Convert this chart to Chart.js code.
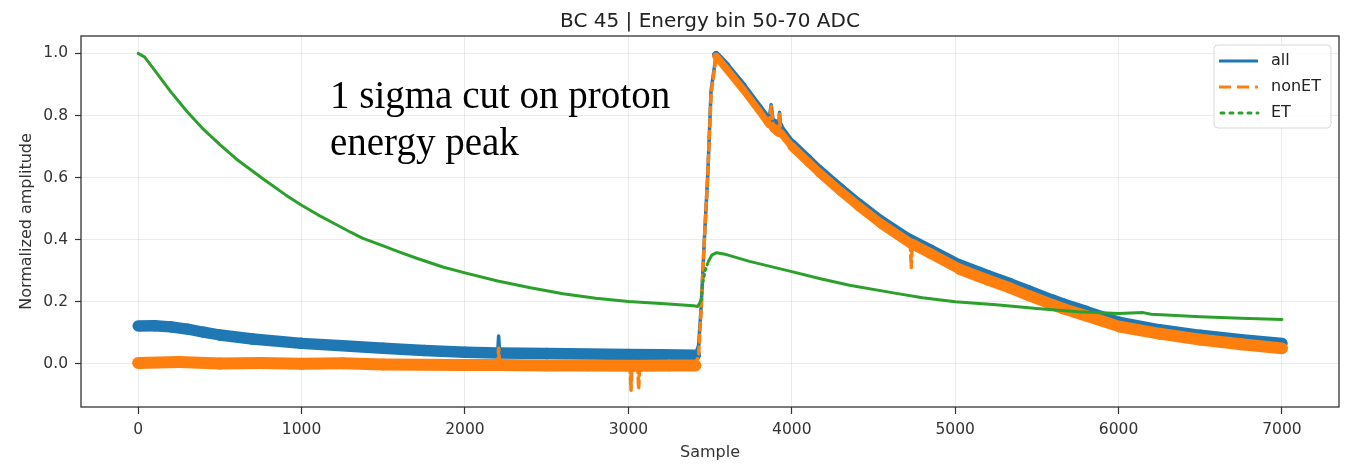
<!DOCTYPE html>
<html>
<head>
<meta charset="utf-8">
<script src="https://cdn.jsdelivr.net/npm/chart.js@4.4.0/dist/chart.umd.min.js"></script>
<style>
  html, body { margin: 0; padding: 0; background: #fff; }
</style>
</head>
<body>
<canvas id="chart" width="1346" height="466"></canvas>
<script>
// values (sample index -> normalized amplitude)
var titleText = "BC 45 | Energy bin 50-70 ADC";
var noteLines = ["1 sigma cut on proton", "energy peak"];
var seriesNames = ["all", "nonET", "ET"];

var xTickLabels = ["0", "1000", "2000", "3000", "4000", "5000", "6000", "7000"];
var yTickLabels = ["0.0", "0.2", "0.4", "0.6", "0.8", "1.0"];

var allX = [0, 100, 200, 300, 400, 500, 700, 1000, 1250, 1500, 1750, 2000, 2200, 2206, 2212, 2500, 3000, 3200, 3410,
  3430, 3445, 3465, 3486, 3506, 3537, 3600, 3700, 3800, 3860, 3874, 3888, 3920, 3925, 3932, 4000, 4100, 4169, 4300,
  4415, 4550, 4721, 4850, 5027, 5200, 5333, 5450, 5598, 5665, 5800, 6006, 6250, 6500, 6750, 7000];
var allY = [0.122, 0.123, 0.119, 0.112, 0.102, 0.093, 0.080, 0.066, 0.058, 0.050, 0.043, 0.037, 0.035, 0.090, 0.035, 0.033, 0.030, 0.029, 0.028,
  0.060, 0.180, 0.400, 0.610, 0.880, 0.995, 0.960, 0.897, 0.827, 0.785, 0.835, 0.775, 0.765, 0.810, 0.760, 0.712, 0.662, 0.627, 0.567,
  0.517, 0.462, 0.403, 0.368, 0.320, 0.285, 0.260, 0.236, 0.206, 0.193, 0.170, 0.134, 0.110, 0.092, 0.078, 0.066];

var nonetX = [0, 250, 500, 750, 1000, 1250, 1500, 1750, 2000, 2200, 2206, 2212, 2500, 2750, 3010, 3016, 3022, 3057, 3063, 3069,
  3250, 3410, 3430, 3445, 3465, 3486, 3506, 3537, 3600, 3700, 3800, 3860, 3874, 3888, 3920, 3925, 3932, 4000, 4100, 4169,
  4300, 4415, 4550, 4725, 4731, 4737, 4850, 5027, 5200, 5333, 5450, 5598, 5665, 5800, 6006, 6250, 6500, 6750, 7000];
var nonetY = [0.003, 0.006, 0.001, 0.003, 0.000, 0.002, -0.002, -0.003, -0.004, -0.004, 0.050, -0.004, -0.005, -0.005, -0.006, -0.085, -0.006, -0.006, -0.080, -0.006,
  -0.005, -0.005, 0.030, 0.170, 0.400, 0.610, 0.870, 0.990, 0.950, 0.885, 0.815, 0.770, 0.830, 0.760, 0.745, 0.805, 0.745, 0.700, 0.650, 0.615,
  0.555, 0.505, 0.450, 0.388, 0.310, 0.386, 0.355, 0.305, 0.270, 0.245, 0.220, 0.190, 0.177, 0.155, 0.120, 0.097, 0.078, 0.063, 0.050];

var etX = [0, 40, 100, 200, 300, 400, 500, 600, 761, 900, 1000, 1100, 1200, 1300, 1372, 1500, 1600, 1700, 1864, 2000, 2200,
  2400, 2600, 2800, 3000, 3200, 3400, 3425, 3445, 3455, 3470, 3490, 3510, 3540, 3600, 3741, 4000, 4169, 4353, 4639,
  4800, 5000, 5250, 5500, 5750, 6000, 6150, 6200, 6500, 6750, 7000];
var etY = [1.000, 0.988, 0.946, 0.876, 0.812, 0.755, 0.706, 0.660, 0.597, 0.545, 0.511, 0.480, 0.452, 0.424, 0.405, 0.380, 0.360, 0.341, 0.312, 0.293, 0.267,
  0.245, 0.226, 0.211, 0.201, 0.194, 0.187, 0.185, 0.205, 0.260, 0.300, 0.330, 0.350, 0.358, 0.352, 0.330, 0.297, 0.275, 0.253, 0.227,
  0.213, 0.200, 0.190, 0.178, 0.168, 0.162, 0.165, 0.160, 0.152, 0.147, 0.143];

function pts(xs, ys) {
  return xs.map(function (x, i) { return { x: x, y: ys[i] }; });
}

// noisy traces look like bands: keep the vertical thickness, thin out on steep parts
function slopeCos(ctx) {
  var dx = ctx.p1.x - ctx.p0.x, dy = ctx.p1.y - ctx.p0.y;
  var len = Math.sqrt(dx * dx + dy * dy) || 1;
  return Math.abs(dx) / len;
}
function bandWidth(base, minW) {
  return function (ctx) { return Math.max(minW, base * slopeCos(ctx)); };
}
function steepDash(dash) {
  return function (ctx) { return slopeCos(ctx) < 0.35 ? dash : []; };
}

var blue = "#1f77b4", orange = "#ff7f0e", green = "#2ca02c";
var tickFont = { family: "DejaVu Sans", size: 15.5 };
var labelFont = { family: "DejaVu Sans", size: 16 };

var frame = {
  id: "frame",
  afterDraw: function (chart) {
    var c = chart.ctx, a = chart.chartArea;
    c.save();
    c.strokeStyle = "#333";
    c.lineWidth = 1.3;
    c.strokeRect(a.left, a.top, a.right - a.left, a.bottom - a.top);

    // title
    c.fillStyle = "#222";
    c.font = "20px 'DejaVu Sans'";
    c.textAlign = "center";
    c.textBaseline = "alphabetic";
    c.fillText(titleText, (a.left + a.right) / 2, 27);

    // note
    c.fillStyle = "#000";
    c.font = "39px 'Liberation Serif'";
    c.textAlign = "left";
    c.fillText(noteLines[0], 330, 108);
    c.fillText(noteLines[1], 330, 155);

    // legend
    var bx = 1214, by = 45, bw = 117, bh = 83;
    c.fillStyle = "rgba(255,255,255,0.85)";
    c.strokeStyle = "#d8d8d8";
    c.lineWidth = 1;
    c.beginPath();
    c.roundRect(bx, by, bw, bh, 4);
    c.fill();
    c.stroke();
    var dashes = [[], [12, 6], [3, 6]];
    c.font = "16px 'DejaVu Sans'";
    c.textBaseline = "middle";
    chart.data.datasets.forEach(function (ds, i) {
      var y = 61 + i * 26;
      c.strokeStyle = ds.borderColor;
      c.lineWidth = 3;
      c.lineCap = i === 2 ? "round" : "butt";
      c.setLineDash(dashes[i]);
      c.beginPath();
      c.moveTo(i === 2 ? 1221 : 1219, y);
      c.lineTo(1258, y);
      c.stroke();
      c.setLineDash([]);
      c.fillStyle = "#222";
      c.fillText(ds.label, 1271, y);
    });
    c.restore();
  }
};

new Chart(document.getElementById("chart"), {
  type: "line",
  data: {
    datasets: [
      {
        label: seriesNames[0], data: pts(allX, allY), borderColor: blue, order: 3,
        borderCapStyle: "round", borderJoinStyle: "round",
        segment: { borderWidth: bandWidth(11.5, 3.5) }
      },
      {
        label: seriesNames[1], data: pts(nonetX, nonetY), borderColor: orange, order: 2,
        borderCapStyle: "round", borderJoinStyle: "round",
        segment: { borderWidth: bandWidth(12, 3.5), borderDash: steepDash([7, 5]) }
      },
      {
        label: seriesNames[2], data: pts(etX, etY), borderColor: green, order: 1,
        borderCapStyle: "round", borderJoinStyle: "round", borderWidth: 3,
        segment: { borderDash: steepDash([2, 4]) }
      }
    ]
  },
  options: {
    responsive: false,
    animation: false,
    devicePixelRatio: 1,
    layout: { padding: { left: 0, right: 7, top: 36, bottom: 0 } },
    elements: { point: { radius: 0 }, line: { tension: 0, fill: false } },
    plugins: { legend: { display: false }, tooltip: { enabled: false }, title: { display: false } },
    scales: {
      x: {
        type: "linear", min: -350, max: 7349,
        afterBuildTicks: function (s) { s.ticks = xTickLabels.map(function (t) { return { value: parseFloat(t) }; }); },
        afterFit: function (s) { s.height = 59; },
        ticks: {
          font: tickFont, color: "#333", padding: 7, maxRotation: 0,
          callback: function (v) { return xTickLabels[xTickLabels.indexOf(String(v))] || String(v); }
        },
        grid: { color: "rgba(0,0,0,0.08)", tickColor: "#333", tickLength: 7, tickWidth: 1.2 },
        border: { display: false },
        title: { display: true, text: "Sample", font: labelFont, color: "#333", padding: { top: 0, bottom: 4 } }
      },
      y: {
        type: "linear", min: -0.139, max: 1.056,
        afterBuildTicks: function (s) { s.ticks = yTickLabels.map(function (t) { return { value: parseFloat(t) }; }); },
        afterFit: function (s) { s.width = 81; },
        ticks: {
          font: tickFont, color: "#333", padding: 7,
          callback: function (v) { return yTickLabels.filter(function (t) { return parseFloat(t) === v; })[0]; }
        },
        grid: { color: "rgba(0,0,0,0.08)", tickColor: "#333", tickLength: 6, tickWidth: 1.2 },
        border: { display: false },
        title: { display: true, text: "Normalized amplitude", font: labelFont, color: "#333", padding: { top: 17, bottom: 0 } }
      }
    }
  },
  plugins: [frame]
});
</script>
</body>
</html>
